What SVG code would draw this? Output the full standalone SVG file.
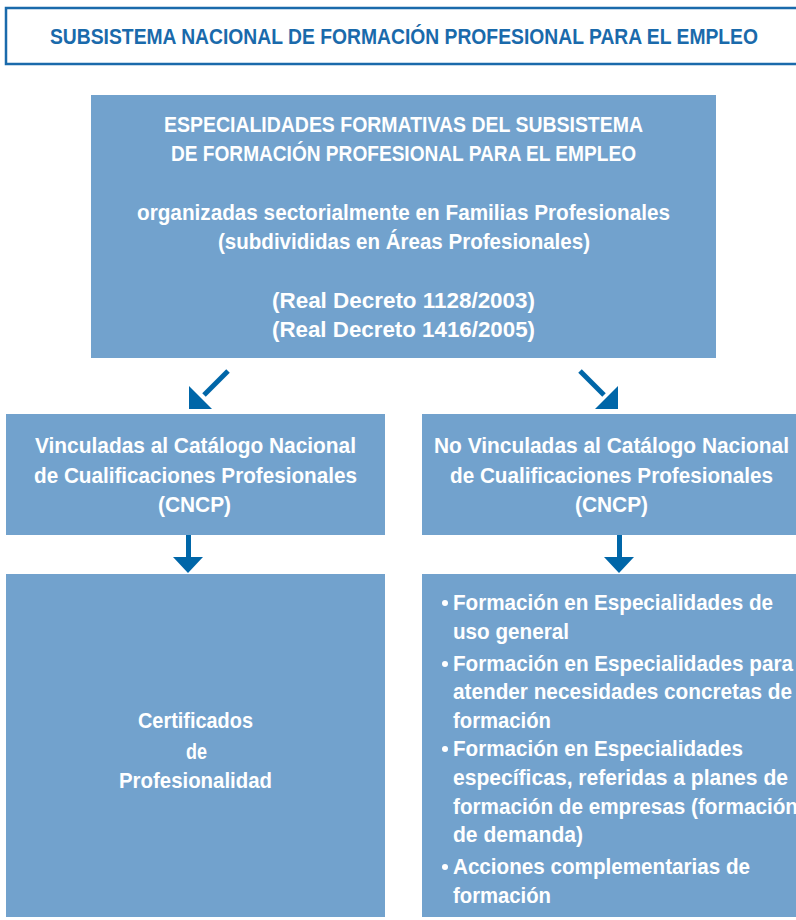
<svg xmlns="http://www.w3.org/2000/svg" width="796" height="920" viewBox="0 0 796 920">
<defs>
<style>
.box{fill:#72a2cd;}
.t{font-family:"Liberation Sans",Arial,sans-serif;font-weight:bold;fill:#ffffff;font-size:22px;}
.title{font-family:"Liberation Sans",Arial,sans-serif;font-weight:bold;fill:#1a6aab;font-size:22px;}
.arr{fill:#0066a8;}
.bul{fill:#ffffff;}
</style>
</defs>
<rect width="796" height="920" fill="#ffffff"/>
<g id="title">
<rect x="6" y="8" width="796" height="56" fill="#ffffff" stroke="#1a6aab" stroke-width="2.5"/>
<text class="title" x="50" y="44" textLength="708" lengthAdjust="spacingAndGlyphs">SUBSISTEMA NACIONAL DE FORMACIÓN PROFESIONAL PARA EL EMPLEO</text>
</g>
<g id="especialidades">
<rect class="box" x="91" y="95" width="625" height="263"/>
<text class="t" x="164" y="132" textLength="479" lengthAdjust="spacingAndGlyphs">ESPECIALIDADES FORMATIVAS DEL SUBSISTEMA</text>
<text class="t" x="171" y="161" textLength="465" lengthAdjust="spacingAndGlyphs">DE FORMACIÓN PROFESIONAL PARA EL EMPLEO</text>
<text class="t" x="137" y="220" textLength="533" lengthAdjust="spacingAndGlyphs">organizadas sectorialmente en Familias Profesionales</text>
<text class="t" x="218" y="249" textLength="372" lengthAdjust="spacingAndGlyphs">(subdivididas en Áreas Profesionales)</text>
<text class="t" x="272" y="308" textLength="263" lengthAdjust="spacingAndGlyphs">(Real Decreto 1128/2003)</text>
<text class="t" x="272" y="337" textLength="263" lengthAdjust="spacingAndGlyphs">(Real Decreto 1416/2005)</text>
</g>
<g id="vinculadas">
<rect class="box" x="6" y="414" width="379" height="121"/>
<text class="t" x="35" y="453" textLength="321" lengthAdjust="spacingAndGlyphs">Vinculadas al Catálogo Nacional</text>
<text class="t" x="34" y="483" textLength="323" lengthAdjust="spacingAndGlyphs">de Cualificaciones Profesionales</text>
<text class="t" x="158" y="512" textLength="73" lengthAdjust="spacingAndGlyphs">(CNCP)</text>
</g>
<g id="no-vinculadas">
<rect class="box" x="422" y="414" width="380" height="121"/>
<text class="t" x="434" y="453" textLength="355" lengthAdjust="spacingAndGlyphs">No Vinculadas al Catálogo Nacional</text>
<text class="t" x="450" y="483" textLength="323" lengthAdjust="spacingAndGlyphs">de Cualificaciones Profesionales</text>
<text class="t" x="575" y="512" textLength="73" lengthAdjust="spacingAndGlyphs">(CNCP)</text>
</g>
<g id="certificados">
<rect class="box" x="6" y="574" width="379" height="343"/>
<text class="t" x="138" y="728" textLength="115" lengthAdjust="spacingAndGlyphs">Certificados</text>
<text class="t" x="186" y="759" textLength="21" lengthAdjust="spacingAndGlyphs">de</text>
<text class="t" x="119" y="788" textLength="153" lengthAdjust="spacingAndGlyphs">Profesionalidad</text>
</g>
<g id="formacion">
<rect class="box" x="422" y="574" width="380" height="343"/>
<circle class="bul" cx="445" cy="603" r="3"/>
<text class="t" x="453" y="610" textLength="320" lengthAdjust="spacingAndGlyphs">Formación en Especialidades de</text>
<text class="t" x="453" y="639" textLength="116" lengthAdjust="spacingAndGlyphs">uso general</text>
<circle class="bul" cx="445" cy="664" r="3"/>
<text class="t" x="453" y="671" textLength="340" lengthAdjust="spacingAndGlyphs">Formación en Especialidades para</text>
<text class="t" x="453" y="699" textLength="339" lengthAdjust="spacingAndGlyphs">atender necesidades concretas de</text>
<text class="t" x="453" y="728" textLength="98" lengthAdjust="spacingAndGlyphs">formación</text>
<circle class="bul" cx="445" cy="749" r="3"/>
<text class="t" x="453" y="756" textLength="290" lengthAdjust="spacingAndGlyphs">Formación en Especialidades</text>
<text class="t" x="453" y="785" textLength="335" lengthAdjust="spacingAndGlyphs">específicas, referidas a planes de</text>
<text class="t" x="453" y="814" textLength="345" lengthAdjust="spacingAndGlyphs">formación de empresas (formación</text>
<text class="t" x="453" y="842" textLength="130" lengthAdjust="spacingAndGlyphs">de demanda)</text>
<circle class="bul" cx="445" cy="867" r="3"/>
<text class="t" x="453" y="874" textLength="297" lengthAdjust="spacingAndGlyphs">Acciones complementarias de</text>
<text class="t" x="453" y="903" textLength="98" lengthAdjust="spacingAndGlyphs">formación</text>
</g>
<g id="connectors">
<line x1="228" y1="371" x2="204" y2="395" stroke="#0066a8" stroke-width="5"/>
<polygon class="arr" points="189,386 189,409 212,409"/>
<line x1="580" y1="371" x2="604" y2="395" stroke="#0066a8" stroke-width="5"/>
<polygon class="arr" points="618,386 618,409 595,409"/>
<rect class="arr" x="186" y="535" width="5" height="24"/>
<polygon class="arr" points="173,557 203,557 188,573"/>
<rect class="arr" x="617" y="535" width="5" height="24"/>
<polygon class="arr" points="604,557 634,557 619,573"/>
</g>
</svg>
